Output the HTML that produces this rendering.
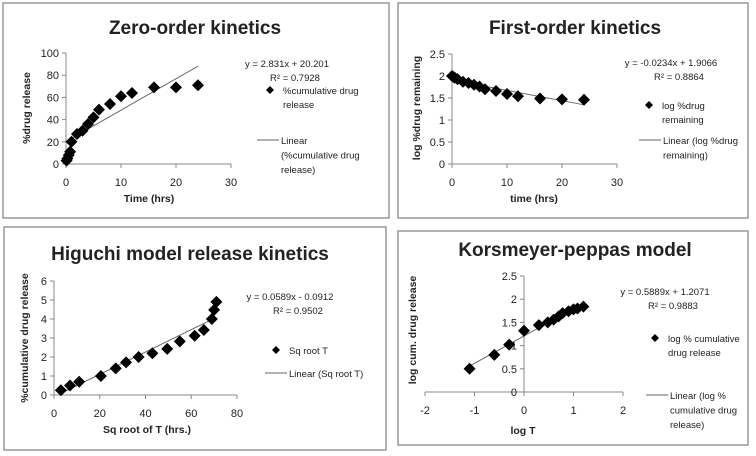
<!DOCTYPE html>
<html><head><meta charset="utf-8"><style>
html,body{margin:0;padding:0;background:#fff;width:756px;height:456px;overflow:hidden}
svg{display:block;font-family:"Liberation Sans",sans-serif}
</style></head><body>
<svg id="s" width="756" height="456" viewBox="0 0 756 456"></svg>
<script>
// ---- data ----
const zeroT=[0.1,0.25,0.5,0.75,1,2,3,4,5,6,8,10,12,16,20,24];
const zeroY=[3,5,8,11,20,27,30,36,42,49,54,61,64,69,69,71];
const firstT=[0,0.25,0.5,1,2,3,4,5,6,8,10,12,16,20,24];
const firstY=[2,1.98,1.96,1.93,1.87,1.84,1.8,1.76,1.7,1.66,1.59,1.54,1.49,1.47,1.46];
const higX=[3,7,11,20.5,27,31.5,37,43,49.5,55,61.5,65.5,69,70,71];
const higY=[0.25,0.5,0.7,1.0,1.4,1.72,2.0,2.2,2.43,2.82,3.12,3.42,4.0,4.48,4.9];
const kpX=[-1.1,-0.6,-0.3,0,0.3,0.48,0.6,0.7,0.78,0.9,1.0,1.08,1.2];
const kpY=[0.5,0.8,1.02,1.32,1.44,1.5,1.56,1.63,1.7,1.74,1.78,1.8,1.84];
const zeroTicksX=[0,10,20,30], zeroTicksY=[0,20,40,60,80,100];
const firstTicksX=[0,10,20,30], firstTicksY=[0,0.5,1,1.5,2,2.5];
const higTicksX=[0,20,40,60,80], higTicksY=[0,1,2,3,4,5,6];
const kpTicksX=[-2,-1,0,1,2], kpTicksY=[0,0.5,1,1.5,2,2.5];
const zeroFit=[2.831,20.201,0,24], firstFit=[-0.0234,1.9066,0,24], higFit=[0.0589,-0.0912,3,69], kpFit=[0.5889,1.2071,-1.1,1.2];

const S=document.getElementById('s'),NS='http://www.w3.org/2000/svg';
function mk(tag,at,par){const e=document.createElementNS(NS,tag);for(const k in at)e.setAttribute(k,at[k]);(par||S).appendChild(e);return e;}
function txt(x,y,s,sz,anc,bold,par,rot){const e=mk('text',{x:x,y:y,'font-size':sz,'text-anchor':anc||'start',fill:'#222'},par);if(bold)e.setAttribute('font-weight','bold');if(rot)e.setAttribute('transform','rotate(-90 '+x+' '+y+')');e.textContent=s;return e;}

function panel(c){
  const g=mk('g',{});
  
  
  const b=mk('rect',{x:c.box[0],y:c.box[1],width:c.box[2],height:c.box[3],fill:'#fff',stroke:'#999','stroke-width':1.5},g);
  
  const t=txt(c.tx,c.ty,c.title,19,'middle',true,g);
  
  const X=v=>c.px0+(v-c.xd[0])/(c.xd[1]-c.xd[0])*(c.px1-c.px0);
  const Y=v=>c.py0+(v-c.yd[0])/(c.yd[1]-c.yd[0])*(c.py1-c.py0);
  const ax0=X(c.yAxisAt), ay0=Y(c.xAxisAt);
  const ya=mk('line',{x1:ax0,y1:c.py0,x2:ax0,y2:c.py1,stroke:'#888'},g);
  
  const xa=mk('line',{x1:c.px0,y1:ay0,x2:c.px1,y2:ay0,stroke:'#888'},g);
  
  c.tyv.forEach(v=>{mk('line',{x1:ax0-4,y1:Y(v),x2:ax0,y2:Y(v),stroke:'#888'},g);
    const l=txt(ax0-7,Y(v)+4,String(v),11,'end',false,g);});
  c.txv.forEach(v=>{mk('line',{x1:X(v),y1:ay0,x2:X(v),y2:ay0+4,stroke:'#888'},g);
    const l=txt(X(v),c.xtickY,String(v),11,'middle',false,g);});
  const xt=txt(c.xlx,c.xly,c.xlabel,10.5,'middle',true,g);
  const yt=txt(c.ylx,c.yly,c.ylabel,10.5,'middle',true,g,true);
  const f=c.fit;
  const tl=mk('line',{x1:X(f[2]),y1:Y(f[0]*f[2]+f[1]),x2:X(f[3]),y2:Y(f[0]*f[3]+f[1]),stroke:'#666','stroke-width':1},g);
  
  c.xs.forEach((v,i)=>{const x=X(v),y=Y(c.ys[i]);
    const d=mk('polygon',{points:`${x},${y-6} ${x+6},${y} ${x},${y+6} ${x-6},${y}`,fill:'#000'},g);
    });
  const eq=txt(c.eqx,c.eqy,c.eq,9.5,'middle',false,g);
  const r2=txt(c.eqx+8,c.eqy+14,'R² = '+c.r2,9.5,'middle',false,g);
  const lx=c.leg[0],ly=c.leg[1];
  const ld=mk('polygon',{points:`${lx},${ly-4} ${lx+4},${ly} ${lx},${ly+4} ${lx-4},${ly}`,fill:'#000'},g);
  
  c.legT1.forEach((s,i)=>{const e=txt(lx+13,ly+4+i*14,s,9.5,'start',false,g);});
  const lx2=c.leg2[0],ly2=c.leg2[1];
  mk('line',{x1:lx2-22,y1:ly2,x2:lx2,y2:ly2,stroke:'#666'},g);
  c.legT2.forEach((s,i)=>{const e=txt(lx2+2,ly2+4+i*14.5,s,9.5,'start',false,g);});
}
panel({name:'zero-order-chart',box:[3,3,386,215],title:'Zero-order kinetics',tx:195,ty:34,
 px0:66,px1:231,py0:164,py1:53,xd:[0,30],yd:[0,100],yAxisAt:0,xAxisAt:0,tyv:zeroTicksY,txv:zeroTicksX,xtickY:186,
 xlabel:'Time (hrs)',xlx:149,xly:202,ylabel:'%drug release',ylx:30,yly:108,xs:zeroT,ys:zeroY,fit:zeroFit,
 eq:'y = 2.831x + 20.201',r2:'0.7928',eqx:287,eqy:67,leg:[270,90],legT1:['%cumulative drug','release'],leg2:[279,140],legT2:['Linear','(%cumulative drug','release)']});
panel({name:'first-order-chart',box:[398,3,350,215],title:'First-order kinetics',tx:575,ty:34,
 px0:452,px1:617,py0:164,py1:54,xd:[0,30],yd:[0,2.5],yAxisAt:0,xAxisAt:0,tyv:firstTicksY,txv:firstTicksX,xtickY:186,
 xlabel:'time (hrs)',xlx:534,xly:202,ylabel:'log %drug remaining',ylx:420,yly:108,xs:firstT,ys:firstY,fit:firstFit,
 eq:'y = -0.0234x + 1.9066',r2:'0.8864',eqx:671,eqy:66,leg:[649,105],legT1:['log %drug','remaining'],leg2:[661,140],legT2:['Linear (log %drug','remaining)']});
panel({name:'higuchi-chart',box:[4,227,382,223],title:'Higuchi model release kinetics',tx:190,ty:260,
 px0:54,px1:237,py0:395,py1:281,xd:[0,80],yd:[0,6],yAxisAt:0,xAxisAt:0,tyv:higTicksY,txv:higTicksX,xtickY:417,
 xlabel:'Sq root of T (hrs.)',xlx:147,xly:433,ylabel:'%cumulative drug release',ylx:28,yly:338,xs:higX,ys:higY,fit:higFit,
 eq:'y = 0.0589x - 0.0912',r2:'0.9502',eqx:290,eqy:300,leg:[276,350],legT1:['Sq root T'],leg2:[287,373],legT2:['Linear (Sq root T)']});
panel({name:'korsmeyer-peppas-chart',box:[398,231,350,214],title:'Korsmeyer-peppas model',tx:575,ty:256,
 px0:425,px1:623,py0:392,py1:276,xd:[-2,2],yd:[0,2.5],yAxisAt:0,xAxisAt:0,tyv:kpTicksY,txv:kpTicksX,xtickY:414,
 xlabel:'log T',xlx:523,xly:434,ylabel:'log cum. drug release',ylx:416,yly:330,xs:kpX,ys:kpY,fit:kpFit,
 eq:'y = 0.5889x + 1.2071',r2:'0.9883',eqx:665,eqy:295,leg:[655,338],legT1:['log % cumulative','drug release'],leg2:[668,395],legT2:['Linear (log %','cumulative drug','release)']});
</script>
</body></html>
